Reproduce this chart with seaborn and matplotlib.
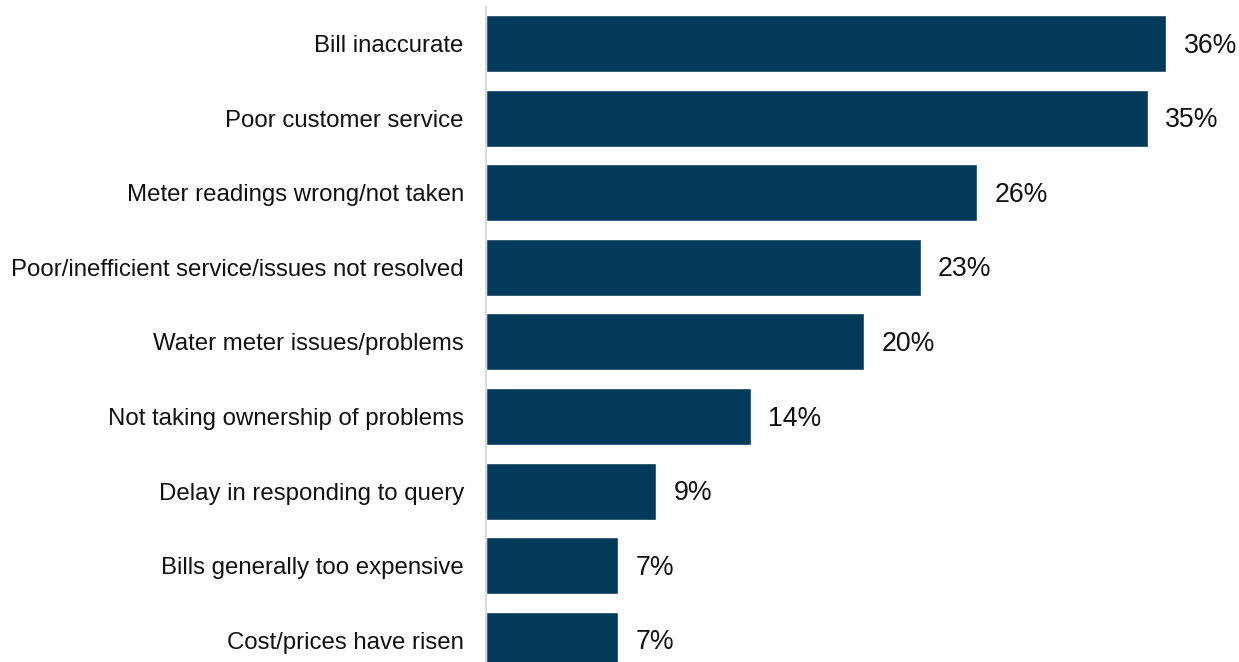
import matplotlib
matplotlib.use("Agg")
import matplotlib.pyplot as plt
import seaborn as sns
import pandas as pd

categories = [
    "Bill inaccurate",
    "Poor customer service",
    "Meter readings wrong/not taken",
    "Poor/inefficient service/issues not resolved",
    "Water meter issues/problems",
    "Not taking ownership of problems",
    "Delay in responding to query",
    "Bills generally too expensive",
    "Cost/prices have risen",
]
values = [36, 35, 26, 23, 20, 14, 9, 7, 7]

df = pd.DataFrame({"reason": categories, "pct": values})

sns.set_theme(style="white")
plt.rcParams["font.family"] = ["Liberation Sans", "DejaVu Sans"]

W, H = 1239, 662
fig = plt.figure(figsize=(W / 100, H / 100), dpi=100)
ax = fig.add_axes([486 / W, 0, (W - 486) / W, 655 / H])

sns.barplot(data=df, x="pct", y="reason", orient="h", color="#033a5a",
            saturation=1, width=0.765, ax=ax)

ax.set_xlim(0, (W - 486) / 18.9)
ax.set_ylim(8.29, -0.49)

for i, v in enumerate(values):
    ax.annotate(f"{v}%", xy=(v, i), xytext=(12.5, -1.5), textcoords="offset points",
                va="center", ha="left", fontsize=19.2, color="#111111")

ax.set_xlabel("")
ax.set_ylabel("")
ax.set_xticks([])
ax.tick_params(axis="y", length=0, pad=16, labelsize=17.3, labelcolor="#111111")
for s in ["top", "right", "bottom"]:
    ax.spines[s].set_visible(False)
ax.spines["left"].set_color("#d9d9d9")
ax.spines["left"].set_linewidth(1.5)

fig.savefig("out.png", dpi=100)
